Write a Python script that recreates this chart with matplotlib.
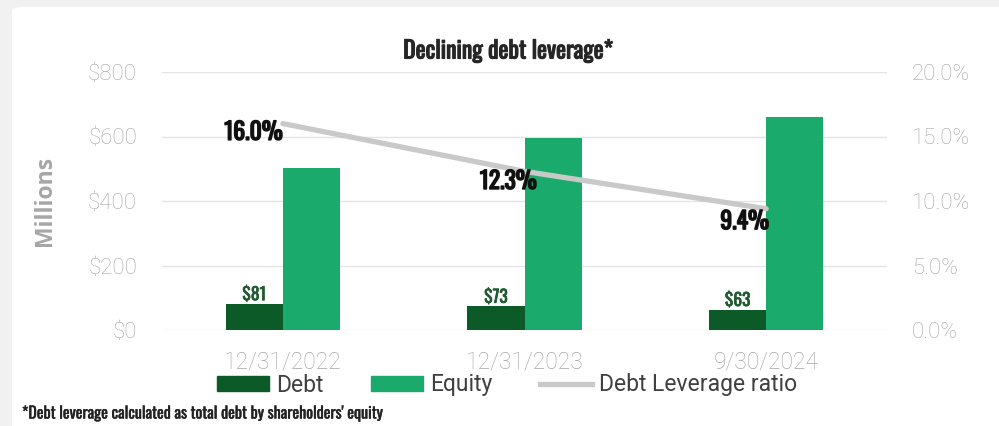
import matplotlib
matplotlib.use("Agg")
import matplotlib.pyplot as plt
from matplotlib.patches import FancyBboxPatch, Patch
from matplotlib.lines import Line2D
import matplotlib.patheffects as pe
import numpy as np

categories = ["12/31/2022", "12/31/2023", "9/30/2024"]
debt = [81, 73, 63]
equity = [503, 595, 662]
ratio = [0.160, 0.123, 0.094]
ratio_labels = ["16.0%", "12.3%", "9.4%"]
debt_labels = ["$81", "$73", "$63"]
left_ticks = [0, 200, 400, 600, 800]
left_ticklabels = ["$0", "$200", "$400", "$600", "$800"]
right_ticks = [0.0, 0.05, 0.10, 0.15, 0.20]
right_ticklabels = ["0.0%", "5.0%", "10.0%", "15.0%", "20.0%"]

DEBT_C = "#0b5a27"
EQ_C = "#1aaa6b"
LINE_C = "#c9c9c9"
TICK_C = "#a6a6a6"
COND = ["Oswald", "Barlow Condensed", "DejaVu Sans"]
LIGHT = ["Roboto", "DejaVu Sans"]


def bold(lw, color):
    return [pe.withStroke(linewidth=lw, foreground=color)]


W, H = 999, 426
fig = plt.figure(figsize=(W / 100, H / 100), dpi=100, facecolor="#f1f1f1")

card = FancyBboxPatch((12 / W, -0.1), 1.2, (H - 7) / H + 0.1,
                      boxstyle="round,pad=0,rounding_size=0.01",
                      transform=fig.transFigure, facecolor="white",
                      edgecolor="none", zorder=-5)
fig.patches.append(card)

ax = fig.add_axes([162 / W, (H - 330) / H, 725 / W, 258 / H])
ax.set_facecolor("none")
x = np.arange(len(categories))
bw = 0.236
ax.bar(x - bw / 2, debt, bw, color=DEBT_C, zorder=2)
ax.bar(x + bw / 2, equity, bw, color=EQ_C, zorder=2)
ax.set_xlim(-0.5, 2.5)
ax.set_ylim(0, 800)
ax.set_yticks(left_ticks)
ax.set_yticklabels(left_ticklabels, family=LIGHT, fontweight="light",
                   fontsize=16, color=TICK_C)
ax.set_xticks(x)
ax.set_xticklabels(categories, family=LIGHT, fontweight="light",
                   fontsize=16.5, color=TICK_C)
ax.tick_params(axis="both", length=0)
ax.tick_params(axis="y", pad=18)
ax.tick_params(axis="x", pad=15)
ax.grid(axis="y", color="#e4e4e4", lw=1, zorder=0)
for s in ax.spines.values():
    s.set_visible(False)
ax.set_ylabel("Millions", family=["Open Sans", "DejaVu Sans"], fontweight="bold",
              fontsize=16.5, color=TICK_C, labelpad=22)

for xi, v, lab in zip(x, debt, debt_labels):
    ax.text(xi - bw / 2, v + 2, lab, ha="center", va="bottom", family=COND,
            fontsize=12.5, color="#1f5a30", zorder=3,
            path_effects=bold(0.5, "#1f5a30"))

ax2 = ax.twinx()
ax2.set_ylim(0, 0.2)
ax2.set_yticks(right_ticks)
ax2.set_yticklabels(right_ticklabels, family=LIGHT, fontweight="light",
                    fontsize=16, color=TICK_C)
ax2.tick_params(axis="y", length=0, pad=18)
for s in ax2.spines.values():
    s.set_visible(False)
ax2.plot(x, ratio, color=LINE_C, lw=3.8, solid_capstyle="round", zorder=3)
offsets = [(0, 2), (9, 1), (2, -1)]
for xi, r, lab, off in zip(x, ratio, ratio_labels, offsets):
    ax2.annotate(lab, (xi, r), xytext=off, textcoords="offset points",
                 ha="right", va="top", family=COND,
                 fontsize=17, color="#111111", zorder=4,
                 path_effects=bold(1.1, "#111111"))

fig.text(508 / W, 1 - 51 / H, "Declining debt leverage*", ha="center", va="center",
         family=COND, fontsize=17, color="#262626",
         path_effects=bold(0.8, "#262626"))

handles = [Patch(color=DEBT_C), Patch(color=EQ_C),
           Line2D([], [], color=LINE_C, lw=3.8)]
fig.legend(handles, ["Debt", "Equity", "Debt Leverage ratio"],
           loc="center", bbox_to_anchor=(507 / W, 1 - 385 / H), ncol=3,
           frameon=False, prop={"family": LIGHT, "size": 16.5},
           labelcolor="#404040", handlelength=2.3, handleheight=0.62,
           handletextpad=0.3, columnspacing=2.05, borderpad=0)

fig.text(22 / W, 1 - 414 / H, "*Debt leverage calculated as total debt by shareholders' equity",
         ha="left", va="center", family=COND, fontsize=11.5, color="#222222",
         path_effects=bold(0.3, "#222222"))

fig.savefig("out.png", dpi=100, facecolor=fig.get_facecolor())
